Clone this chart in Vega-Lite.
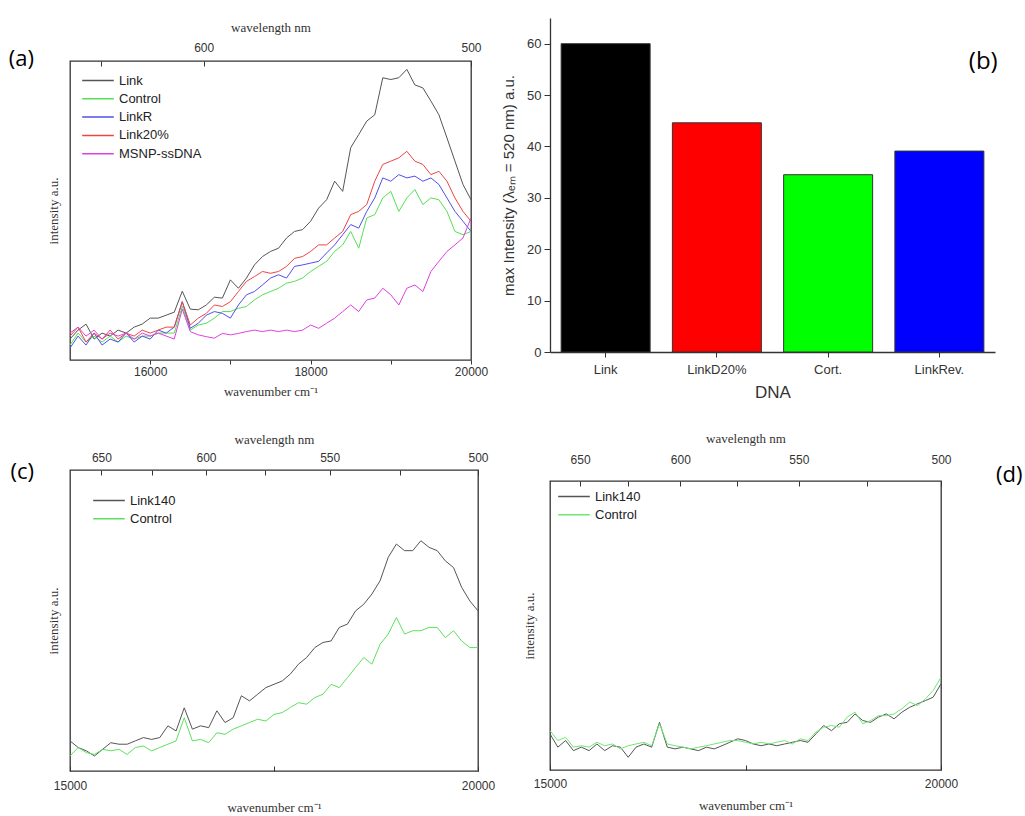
{
  "$schema": "https://vega.github.io/schema/vega-lite/v6.json",
  "padding": {"left": 8, "top": 20, "right": 0, "bottom": 0},
  "background": "white",
  "config": {
    "font": "Liberation Sans",
    "view": {"stroke": "#333", "strokeWidth": 1.3},
    "axis": {"labelColor": "#333", "titleColor": "#333", "tickColor": "#333", "domainColor": "#333", "grid": false},
    "title": {"fontWeight": "normal", "color": "#000", "font": "Open Sans", "fontSize": 22, "angle": 0, "baseline": "top"}
  },
  "datasets": {
    "a": [
      {"w":15000,"Link":7,"Control":5,"LinkR":4,"Link20%":8,"MSNP-ssDNA":9},
      {"w":15100,"Link":10,"Control":9,"LinkR":8,"Link20%":11,"MSNP-ssDNA":11},
      {"w":15200,"Link":12,"Control":6,"LinkR":5,"Link20%":6,"MSNP-ssDNA":8},
      {"w":15300,"Link":7,"Control":8,"LinkR":9,"Link20%":9,"MSNP-ssDNA":10},
      {"w":15400,"Link":9,"Control":6,"LinkR":5,"Link20%":7,"MSNP-ssDNA":7},
      {"w":15500,"Link":8,"Control":8,"LinkR":7,"Link20%":10,"MSNP-ssDNA":9},
      {"w":15600,"Link":10,"Control":6,"LinkR":6,"Link20%":7,"MSNP-ssDNA":8},
      {"w":15700,"Link":9,"Control":8,"LinkR":9,"Link20%":9,"MSNP-ssDNA":9},
      {"w":15800,"Link":11,"Control":7,"LinkR":6,"Link20%":8,"MSNP-ssDNA":7},
      {"w":15900,"Link":12,"Control":8,"LinkR":8,"Link20%":10,"MSNP-ssDNA":9},
      {"w":16000,"Link":14,"Control":8,"LinkR":7,"Link20%":9,"MSNP-ssDNA":8},
      {"w":16100,"Link":14,"Control":9,"LinkR":10,"Link20%":10,"MSNP-ssDNA":9},
      {"w":16200,"Link":15,"Control":9,"LinkR":9,"Link20%":11,"MSNP-ssDNA":8},
      {"w":16300,"Link":16,"Control":9,"LinkR":11,"Link20%":11,"MSNP-ssDNA":7},
      {"w":16400,"Link":23,"Control":18,"LinkR":19.5,"Link20%":19.5,"MSNP-ssDNA":17},
      {"w":16500,"Link":17,"Control":10,"LinkR":10.6,"Link20%":11.7,"MSNP-ssDNA":9.5},
      {"w":16600,"Link":16.8,"Control":11.7,"LinkR":12.3,"Link20%":14,"MSNP-ssDNA":8.4},
      {"w":16700,"Link":18.4,"Control":12.3,"LinkR":15,"Link20%":15.6,"MSNP-ssDNA":7.8},
      {"w":16800,"Link":21,"Control":14,"LinkR":16.2,"Link20%":18.4,"MSNP-ssDNA":7.3},
      {"w":16900,"Link":20.7,"Control":16.2,"LinkR":15.6,"Link20%":17.9,"MSNP-ssDNA":8.9},
      {"w":17000,"Link":26.8,"Control":16.2,"LinkR":14,"Link20%":19.5,"MSNP-ssDNA":8.4},
      {"w":17100,"Link":24,"Control":17.3,"LinkR":18.4,"Link20%":22.9,"MSNP-ssDNA":8.9},
      {"w":17200,"Link":27.4,"Control":17.9,"LinkR":21.8,"Link20%":26.3,"MSNP-ssDNA":9.5},
      {"w":17300,"Link":31.8,"Control":20.1,"LinkR":22.9,"Link20%":27.9,"MSNP-ssDNA":10},
      {"w":17400,"Link":34.6,"Control":21.8,"LinkR":25.1,"Link20%":29.6,"MSNP-ssDNA":9.5},
      {"w":17500,"Link":36.3,"Control":22.9,"LinkR":27.4,"Link20%":29,"MSNP-ssDNA":10},
      {"w":17600,"Link":37.4,"Control":24,"LinkR":28.5,"Link20%":29.6,"MSNP-ssDNA":9.5},
      {"w":17700,"Link":40.8,"Control":25.7,"LinkR":27.4,"Link20%":31.3,"MSNP-ssDNA":10},
      {"w":17800,"Link":43,"Control":26.3,"LinkR":31.3,"Link20%":34,"MSNP-ssDNA":9.5},
      {"w":17900,"Link":43.6,"Control":27.4,"LinkR":31.8,"Link20%":34.6,"MSNP-ssDNA":10},
      {"w":18000,"Link":46.4,"Control":29.6,"LinkR":32.4,"Link20%":36.3,"MSNP-ssDNA":11.7},
      {"w":18100,"Link":50.8,"Control":31.3,"LinkR":33,"Link20%":38.5,"MSNP-ssDNA":10.6},
      {"w":18200,"Link":53.6,"Control":33,"LinkR":35.8,"Link20%":38.5,"MSNP-ssDNA":12.3},
      {"w":18300,"Link":59.8,"Control":36.3,"LinkR":38.5,"Link20%":40.8,"MSNP-ssDNA":14},
      {"w":18400,"Link":56.4,"Control":38.5,"LinkR":41.9,"Link20%":43,"MSNP-ssDNA":16.2},
      {"w":18500,"Link":71,"Control":43,"LinkR":45.3,"Link20%":48.6,"MSNP-ssDNA":18.4},
      {"w":18600,"Link":75.4,"Control":37.4,"LinkR":44.1,"Link20%":49.7,"MSNP-ssDNA":16.2},
      {"w":18700,"Link":79.9,"Control":47.5,"LinkR":49.7,"Link20%":52,"MSNP-ssDNA":20.1},
      {"w":18800,"Link":82,"Control":48.6,"LinkR":54.2,"Link20%":59.8,"MSNP-ssDNA":20.7},
      {"w":18900,"Link":94.4,"Control":54.2,"LinkR":60.9,"Link20%":65.4,"MSNP-ssDNA":24},
      {"w":19000,"Link":93.8,"Control":56.4,"LinkR":59.8,"Link20%":66.5,"MSNP-ssDNA":21.8},
      {"w":19100,"Link":94.4,"Control":49.7,"LinkR":62,"Link20%":67.6,"MSNP-ssDNA":18.4},
      {"w":19200,"Link":97.2,"Control":54.2,"LinkR":60.9,"Link20%":69.8,"MSNP-ssDNA":24},
      {"w":19300,"Link":92,"Control":57,"LinkR":61.5,"Link20%":66.5,"MSNP-ssDNA":25.1},
      {"w":19400,"Link":91,"Control":52,"LinkR":59.8,"Link20%":65.4,"MSNP-ssDNA":22.9},
      {"w":19500,"Link":86.6,"Control":54.2,"LinkR":60.9,"Link20%":62,"MSNP-ssDNA":29.6},
      {"w":19600,"Link":82,"Control":53.6,"LinkR":58.7,"Link20%":63.1,"MSNP-ssDNA":33},
      {"w":19700,"Link":74.3,"Control":49.7,"LinkR":54.2,"Link20%":59.8,"MSNP-ssDNA":36.3},
      {"w":19800,"Link":66.5,"Control":43,"LinkR":49.7,"Link20%":54.2,"MSNP-ssDNA":38.5},
      {"w":19900,"Link":58.7,"Control":41.9,"LinkR":46.4,"Link20%":49.7,"MSNP-ssDNA":40.8},
      {"w":20000,"Link":53.6,"Control":43,"LinkR":43,"Link20%":46.4,"MSNP-ssDNA":47.5}
    ],
    "bars": [
      {"DNA":"Link","v":60},
      {"DNA":"LinkD20%","v":44.6},
      {"DNA":"Cort.","v":34.5},
      {"DNA":"LinkRev.","v":39.1}
    ],
    "c": [
      {"w":15000,"Link140":10,"Control":5},
      {"w":15100,"Link140":7.8,"Control":7.8},
      {"w":15200,"Link140":6.7,"Control":6.1},
      {"w":15300,"Link140":5,"Control":5.5},
      {"w":15400,"Link140":7.2,"Control":7.2},
      {"w":15500,"Link140":9.4,"Control":6.7},
      {"w":15600,"Link140":8.9,"Control":7.2},
      {"w":15700,"Link140":8.9,"Control":5.5},
      {"w":15800,"Link140":10,"Control":7.8},
      {"w":15900,"Link140":11.1,"Control":8.3},
      {"w":16000,"Link140":10.5,"Control":6.7},
      {"w":16100,"Link140":11.1,"Control":7.8},
      {"w":16200,"Link140":15,"Control":8.9},
      {"w":16300,"Link140":13.3,"Control":10},
      {"w":16400,"Link140":21,"Control":17.7},
      {"w":16500,"Link140":13.9,"Control":10},
      {"w":16600,"Link140":15,"Control":10.5},
      {"w":16700,"Link140":14.4,"Control":9.4},
      {"w":16800,"Link140":20,"Control":12.7},
      {"w":16900,"Link140":16.1,"Control":12.2},
      {"w":17000,"Link140":17.7,"Control":13.9},
      {"w":17100,"Link140":25,"Control":15},
      {"w":17200,"Link140":23.3,"Control":16.1},
      {"w":17300,"Link140":25.5,"Control":17.2},
      {"w":17400,"Link140":27.7,"Control":16.6},
      {"w":17500,"Link140":28.8,"Control":18.8},
      {"w":17600,"Link140":29.9,"Control":19.4},
      {"w":17700,"Link140":32.2,"Control":21.1},
      {"w":17800,"Link140":35.5,"Control":22.7},
      {"w":17900,"Link140":37.7,"Control":22.2},
      {"w":18000,"Link140":41,"Control":24.4},
      {"w":18100,"Link140":42.7,"Control":25.5},
      {"w":18200,"Link140":43.2,"Control":28.8},
      {"w":18300,"Link140":47.7,"Control":27.7},
      {"w":18400,"Link140":48.8,"Control":31},
      {"w":18500,"Link140":53.2,"Control":34.4},
      {"w":18600,"Link140":55.4,"Control":37.7},
      {"w":18700,"Link140":58.8,"Control":35.5},
      {"w":18800,"Link140":63.2,"Control":42.1},
      {"w":18900,"Link140":71,"Control":45.5},
      {"w":19000,"Link140":75.4,"Control":51},
      {"w":19100,"Link140":73.2,"Control":45.5},
      {"w":19200,"Link140":73.2,"Control":46.6},
      {"w":19300,"Link140":76.5,"Control":46.6},
      {"w":19400,"Link140":74.3,"Control":47.7},
      {"w":19500,"Link140":73.2,"Control":47.7},
      {"w":19600,"Link140":69.8,"Control":44.3},
      {"w":19700,"Link140":67.6,"Control":46.6},
      {"w":19800,"Link140":61,"Control":43.2},
      {"w":19900,"Link140":56.5,"Control":41},
      {"w":20000,"Link140":53.2,"Control":41}
    ],
    "d": [
      {"w":15000,"Link140":12.5,"Control":13.6},
      {"w":15100,"Link140":7.9,"Control":10.2},
      {"w":15200,"Link140":10.2,"Control":11.3},
      {"w":15300,"Link140":6.7,"Control":7.9},
      {"w":15400,"Link140":7.9,"Control":8.4},
      {"w":15500,"Link140":6.7,"Control":7.9},
      {"w":15600,"Link140":9,"Control":9.6},
      {"w":15700,"Link140":6.7,"Control":8.4},
      {"w":15800,"Link140":8.4,"Control":9},
      {"w":15900,"Link140":7.9,"Control":7.3},
      {"w":16000,"Link140":4.4,"Control":8.4},
      {"w":16100,"Link140":7.9,"Control":9},
      {"w":16200,"Link140":9,"Control":9.6},
      {"w":16300,"Link140":7.9,"Control":8.4},
      {"w":16400,"Link140":16.5,"Control":16},
      {"w":16500,"Link140":7.9,"Control":9},
      {"w":16600,"Link140":7.3,"Control":8.4},
      {"w":16700,"Link140":7.9,"Control":7.9},
      {"w":16800,"Link140":7.3,"Control":7.3},
      {"w":16900,"Link140":6.7,"Control":7.9},
      {"w":17000,"Link140":7.9,"Control":8.4},
      {"w":17100,"Link140":7.3,"Control":9},
      {"w":17200,"Link140":8.4,"Control":9.6},
      {"w":17300,"Link140":9.6,"Control":10.2},
      {"w":17400,"Link140":10.8,"Control":10.2},
      {"w":17500,"Link140":10.2,"Control":9.6},
      {"w":17600,"Link140":9,"Control":9},
      {"w":17700,"Link140":8.4,"Control":9.6},
      {"w":17800,"Link140":9,"Control":9},
      {"w":17900,"Link140":8.4,"Control":9.6},
      {"w":18000,"Link140":9,"Control":10.2},
      {"w":18100,"Link140":9.6,"Control":9},
      {"w":18200,"Link140":10.2,"Control":10.8},
      {"w":18300,"Link140":9.6,"Control":10.2},
      {"w":18400,"Link140":12.5,"Control":13.1},
      {"w":18500,"Link140":15.4,"Control":14.8},
      {"w":18600,"Link140":13.6,"Control":15.4},
      {"w":18700,"Link140":16,"Control":14.8},
      {"w":18800,"Link140":16.5,"Control":18.3},
      {"w":18900,"Link140":19.4,"Control":20},
      {"w":19000,"Link140":17.1,"Control":16},
      {"w":19100,"Link140":16.5,"Control":17.1},
      {"w":19200,"Link140":18.3,"Control":18.8},
      {"w":19300,"Link140":19.4,"Control":18.8},
      {"w":19400,"Link140":17.7,"Control":19.4},
      {"w":19500,"Link140":20,"Control":21.2},
      {"w":19600,"Link140":21.7,"Control":23.5},
      {"w":19700,"Link140":22.9,"Control":22.3},
      {"w":19800,"Link140":24,"Control":24.6},
      {"w":19900,"Link140":25.2,"Control":27.5},
      {"w":20000,"Link140":29.8,"Control":32.1}
    ]
  },
  "resolve": {"scale": {"color": "independent"}, "legend": {"color": "independent"}},
  "spacing": 5,
  "hconcat": [
    {
      "spacing": 33,
      "resolve": {"scale": {"color": "independent"}, "legend": {"color": "independent"}},
      "vconcat": [
        {
          "width": 401, "height": 299,
          "title": {"text": "(a)", "orient": "left", "anchor": "end", "frame": "group", "align": "left", "offset": 13, "dy": -12},
          "data": {"name": "a"},
          "transform": [{"fold": ["Link", "Control", "LinkR", "Link20%", "MSNP-ssDNA"], "as": ["series", "v"]}],
          "layer": [
            {
              "mark": {"type": "line", "strokeWidth": 1, "clip": true},
              "encoding": {
                "x": {"field": "w", "type": "quantitative", "scale": {"domain": [15000, 20000], "nice": false, "zero": false},
                  "axis": {"orient": "bottom", "values": [16000, 17000, 18000, 19000, 20000], "format": "d", "labelExpr": "datum.value % 2000 == 0 ? datum.label : ''", "tickSize": 4, "labelPadding": 2, "domain": false, "labelFontSize": 12, "labelFlush": false, "title": "wavenumber cm⁻¹", "titleFont": "Liberation Serif", "titleFontSize": 13, "titleFontWeight": "normal", "titlePadding": 8}},
                "y": {"field": "v", "type": "quantitative", "scale": {"domain": [0, 100], "nice": false},
                  "axis": {"title": "intensity a.u.", "labels": false, "ticks": false, "domain": false, "titleFont": "Liberation Serif", "titleFontSize": 13, "titleFontWeight": "normal", "titlePadding": 10}},
                "color": {"field": "series", "type": "nominal",
                  "scale": {"domain": ["Link", "Control", "LinkR", "Link20%", "MSNP-ssDNA"], "range": ["#555555", "#55e055", "#5050e8", "#ee4444", "#e040e0"]},
                  "legend": {"orient": "top-left", "title": null, "symbolType": "stroke", "symbolSize": 1000, "symbolStrokeWidth": 1.5, "labelFontSize": 13, "labelColor": "#222", "clipHeight": 17, "rowPadding": 1.3, "offset": 11, "padding": 0}}
              }
            },
            {
              "mark": {"type": "line", "opacity": 0},
              "encoding": {
                "x": {"field": "w", "type": "quantitative",
                  "axis": {"orient": "top", "values": [15385, 16667, 20000], "labelExpr": "datum.value == 15385 ? '' : format(1e7/datum.value, '.0f')", "tickSize": -5, "labelPadding": 12, "domain": false, "labelFontSize": 12, "labelFlush": false, "title": "wavelength nm", "titleFont": "Liberation Serif", "titleFontSize": 13, "titleFontWeight": "normal", "titlePadding": 7}},
                "y": {"field": "v", "type": "quantitative",
                  "axis": {"title": "intensity a.u.", "labels": false, "ticks": false, "domain": false, "titleFont": "Liberation Serif", "titleFontSize": 13, "titleFontWeight": "normal", "titlePadding": 10}},
                "detail": {"field": "series"}
              }
            }
          ],
          "resolve": {"axis": {"x": "independent"}}
        },
        {
          "width": 408, "height": 301,
          "title": {"text": "(c)", "orient": "left", "anchor": "end", "frame": "group", "align": "left", "offset": 13, "dy": -8},
          "data": {"name": "c"},
          "transform": [{"fold": ["Link140", "Control"], "as": ["series", "v"]}],
          "layer": [
            {
              "mark": {"type": "line", "strokeWidth": 1, "clip": true},
              "encoding": {
                "x": {"field": "w", "type": "quantitative", "scale": {"domain": [15000, 20000], "nice": false, "zero": false},
                  "axis": {"orient": "bottom", "values": [15000, 17500, 20000], "format": "d", "labelExpr": "datum.value == 17500 ? '' : datum.label", "tickSize": -5, "labelPadding": 14, "domain": false, "labelFontSize": 12, "labelFlush": false, "title": "wavenumber cm⁻¹", "titleFont": "Liberation Serif", "titleFontSize": 13, "titleFontWeight": "normal", "titlePadding": 10}},
                "y": {"field": "v", "type": "quantitative", "scale": {"domain": [0, 100], "nice": false},
                  "axis": {"title": "intensity a.u.", "labels": false, "ticks": false, "domain": false, "titleFont": "Liberation Serif", "titleFontSize": 13, "titleFontWeight": "normal", "titlePadding": 10}},
                "color": {"field": "series", "type": "nominal",
                  "scale": {"domain": ["Link140", "Control"], "range": ["#555555", "#5ee05e"]},
                  "legend": {"orient": "top-left", "title": null, "symbolType": "stroke", "symbolSize": 1000, "symbolStrokeWidth": 1.5, "labelFontSize": 13, "labelColor": "#222", "clipHeight": 17, "rowPadding": 1.3, "offset": 22, "padding": 0}}
              }
            },
            {
              "mark": {"type": "line", "opacity": 0},
              "encoding": {
                "x": {"field": "w", "type": "quantitative",
                  "axis": {"orient": "top", "values": [15385, 16000, 16667, 17391, 18182, 19048, 20000], "labelExpr": "indexof([15385, 16667, 18182, 20000], datum.value) >= 0 ? format(1e7/datum.value, '.0f') : ''", "tickSize": -5, "labelPadding": 11, "domain": false, "labelFontSize": 12, "labelFlush": false, "title": "wavelength nm", "titleFont": "Liberation Serif", "titleFontSize": 13, "titleFontWeight": "normal", "titlePadding": 5}},
                "y": {"field": "v", "type": "quantitative",
                  "axis": {"title": "intensity a.u.", "labels": false, "ticks": false, "domain": false, "titleFont": "Liberation Serif", "titleFontSize": 13, "titleFontWeight": "normal", "titlePadding": 10}},
                "detail": {"field": "series"}
              }
            }
          ],
          "resolve": {"axis": {"x": "independent"}}
        }
      ]
    },
    {
      "spacing": 31,
      "resolve": {"scale": {"color": "independent"}, "legend": {"color": "independent"}},
      "vconcat": [
        {
          "width": 445, "height": 291,
          "view": {"stroke": null},
          "title": {"text": "(b)", "orient": "right", "anchor": "start", "frame": "group", "align": "left", "offset": -55, "dy": -11, "fontSize": 24},
          "data": {"name": "bars"},
          "mark": {"type": "bar", "stroke": "#333", "strokeWidth": 1, "clip": false},
          "encoding": {
            "x": {"field": "DNA", "type": "nominal", "sort": null, "scale": {"paddingInner": 0.2, "paddingOuter": 0.1},
              "axis": {"title": "DNA", "labelAngle": 0, "labelFontSize": 13, "titleFontSize": 17, "titleFontWeight": "normal", "tickSize": 5, "labelPadding": 6, "titlePadding": 8, "domainWidth": 1.3}},
            "y": {"field": "v", "type": "quantitative", "scale": {"domain": [0, 65], "nice": false, "range": [291, -43]},
              "axis": {"title": "max Intensity (λₑₘ = 520 nm) a.u.", "values": [0, 10, 20, 30, 40, 50, 60], "labelFontSize": 13, "titleFontSize": 15, "titleFontWeight": "normal", "tickSize": 6, "labelPadding": 3, "titlePadding": 10, "domainWidth": 1.3}},
            "color": {"field": "DNA", "type": "nominal",
              "scale": {"domain": ["Link", "LinkD20%", "Cort.", "LinkRev."], "range": ["#000000", "#ff0000", "#00ff00", "#0000ff"]},
              "legend": null}
          }
        },
        {
          "width": 391, "height": 289,
          "title": {"text": "(d)", "orient": "right", "anchor": "start", "frame": "group", "align": "left", "offset": 12, "dy": -16},
          "data": {"name": "d"},
          "transform": [{"fold": ["Link140", "Control"], "as": ["series", "v"]}],
          "layer": [
            {
              "mark": {"type": "line", "strokeWidth": 1, "clip": true},
              "encoding": {
                "x": {"field": "w", "type": "quantitative", "scale": {"domain": [15000, 20000], "nice": false, "zero": false},
                  "axis": {"orient": "bottom", "values": [15000, 17500, 20000], "format": "d", "labelExpr": "datum.value == 17500 ? '' : datum.label", "tickSize": -5, "labelPadding": 13, "domain": false, "labelFontSize": 12, "labelFlush": false, "title": "wavenumber cm⁻¹", "titleFont": "Liberation Serif", "titleFontSize": 13, "titleFontWeight": "normal", "titlePadding": 10}},
                "y": {"field": "v", "type": "quantitative", "scale": {"domain": [0, 100], "nice": false},
                  "axis": {"title": "intensity a.u.", "labels": false, "ticks": false, "domain": false, "titleFont": "Liberation Serif", "titleFontSize": 13, "titleFontWeight": "normal", "titlePadding": 14}},
                "color": {"field": "series", "type": "nominal",
                  "scale": {"domain": ["Link140", "Control"], "range": ["#555555", "#6ee86e"]},
                  "legend": {"orient": "top-left", "title": null, "symbolType": "stroke", "symbolSize": 1000, "symbolStrokeWidth": 1.5, "labelFontSize": 13, "labelColor": "#222", "clipHeight": 17, "rowPadding": 1.3, "offset": 7, "padding": 0}}
              }
            },
            {
              "mark": {"type": "line", "opacity": 0},
              "encoding": {
                "x": {"field": "w", "type": "quantitative",
                  "axis": {"orient": "top", "values": [15385, 16000, 16667, 17391, 18182, 19048, 20000], "labelExpr": "indexof([15385, 16667, 18182, 20000], datum.value) >= 0 ? format(1e7/datum.value, '.0f') : ''", "tickSize": -5, "labelPadding": 20, "domain": false, "labelFontSize": 12, "labelFlush": false, "title": "wavelength nm", "titleFont": "Liberation Serif", "titleFontSize": 13, "titleFontWeight": "normal", "titlePadding": 8}},
                "y": {"field": "v", "type": "quantitative",
                  "axis": {"title": "intensity a.u.", "labels": false, "ticks": false, "domain": false, "titleFont": "Liberation Serif", "titleFontSize": 13, "titleFontWeight": "normal", "titlePadding": 14}},
                "detail": {"field": "series"}
              }
            }
          ],
          "resolve": {"axis": {"x": "independent"}}
        }
      ]
    }
  ]
}
